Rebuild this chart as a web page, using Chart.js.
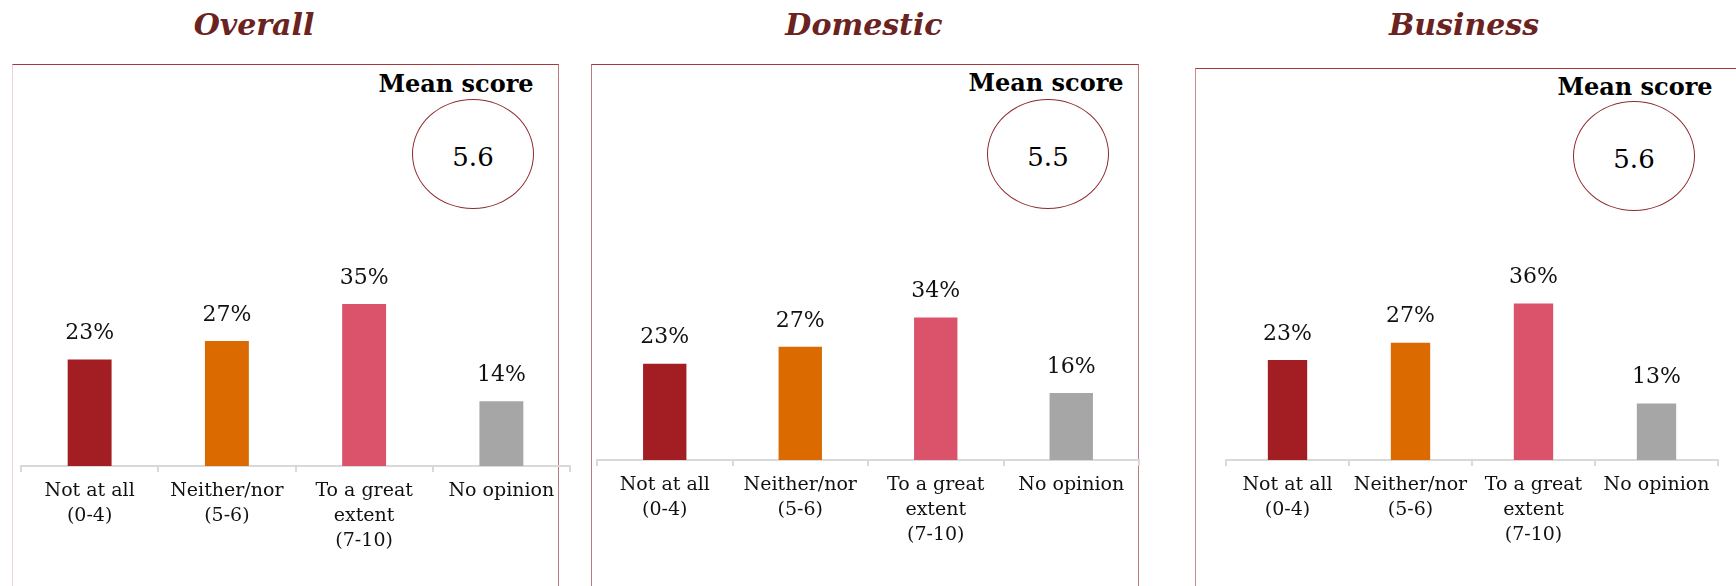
<!DOCTYPE html>
<html>
<head>
<meta charset="utf-8">
<script src="https://cdn.jsdelivr.net/npm/chart.js@4.4.1/dist/chart.umd.min.js"></script>
<style>
  body { margin: 0; width: 1736px; height: 586px; overflow: hidden; background: #fff; position: relative; font-family: "DejaVu Serif", serif; }
  .box { position: absolute; height: 600px; box-sizing: border-box; border-top: 1.5px solid #a5383a; border-left: 1.5px solid #ba7b7f; border-right: 1.5px solid #ba7b7f; }
  .txt { position: absolute; transform: translate(-50%, -50%); line-height: 1; white-space: nowrap; }
  .title { font: italic bold 30px "DejaVu Serif", serif; color: #6a2320; }
  .mean { font: bold 24px "DejaVu Serif", serif; color: #000; }
  .score { font: 26px "DejaVu Serif", serif; color: #000; }
  .ring { position: absolute; border: 1px solid #8e2b2e; border-radius: 50%; box-sizing: border-box; }
  canvas { position: absolute; }
</style>
</head>
<body>
<script>
// categories and values
const categories = [["Not at all", "(0-4)"], ["Neither/nor", "(5-6)"], ["To a great", "extent", "(7-10)"], ["No opinion"]];
const barColors = ["#a21e22", "#db6a00", "#db526b", "#a6a6a6"];
const panelTitles = ["Overall", "Domestic", "Business"];
const overallValues = [23, 27, 35, 14];
const domesticValues = [23, 27, 34, 16];
const businessValues = [23, 27, 36, 13];
const meanScores = [5.6, 5.5, 5.6];

// where each panel sits on the page
const panels = [
  { values: overallValues, box: [12, 63.5, 559], leftBorder: "#ecd0d6", titleX: 254, mean: [456, 83], ring: [473, 154], axisL: 21, axisR: 570, axisY: 466, pxPer: 4.63 },
  { values: domesticValues, box: [591, 63.5, 1139], leftBorder: "#ba7b7f", titleX: 864, mean: [1046, 82], ring: [1048, 154], axisL: 597, axisR: 1139, axisY: 460, pxPer: 4.19 },
  { values: businessValues, box: [1195, 67.5, 1760], leftBorder: "#c58b8f", titleX: 1464, mean: [1635, 86], ring: [1634, 156], axisL: 1225.5, axisR: 1717, axisY: 460, pxPer: 4.345 }
];

const valueLabels = {
  id: "valueLabels",
  afterDatasetsDraw(chart) {
    const ctx = chart.ctx;
    const values = chart.data.datasets[0].data;
    ctx.save();
    ctx.font = '22px "DejaVu Serif"';
    ctx.fillStyle = "#111";
    ctx.textAlign = "center";
    ctx.textBaseline = "middle";
    chart.getDatasetMeta(0).data.forEach((bar, i) => {
      ctx.fillText(values[i] + "%", bar.x, bar.y - 26);
    });
    ctx.restore();
  }
};

function addText(cls, text, x, y) {
  const el = document.createElement("div");
  el.className = "txt " + cls;
  el.textContent = text;
  el.style.left = x + "px";
  el.style.top = y + "px";
  document.body.appendChild(el);
}

panels.forEach((p, i) => {
  const box = document.createElement("div");
  box.className = "box";
  box.style.left = p.box[0] + "px";
  box.style.top = p.box[1] + "px";
  box.style.width = (p.box[2] - p.box[0]) + "px";
  box.style.borderLeftColor = p.leftBorder;
  document.body.appendChild(box);

  addText("title", panelTitles[i], p.titleX, 24);
  addText("mean", "Mean score", p.mean[0], p.mean[1]);

  const ring = document.createElement("div");
  ring.className = "ring";
  ring.style.cssText = `left:${p.ring[0] - 61}px;top:${p.ring[1] - 55}px;width:122px;height:110px;`;
  document.body.appendChild(ring);
  addText("score", meanScores[i].toFixed(1), p.ring[0], p.ring[1] + 3);

  const top = 200;
  const height = 586 - top;
  const areaH = p.axisY - top;
  const pad = 2;
  const canvas = document.createElement("canvas");
  canvas.width = Math.round(p.axisR - p.axisL) + pad * 2;
  canvas.height = height;
  canvas.style.left = (p.axisL - pad) + "px";
  canvas.style.top = top + "px";
  document.body.appendChild(canvas);

  new Chart(canvas, {
    type: "bar",
    data: {
      labels: categories,
      datasets: [{ data: p.values, backgroundColor: barColors, barPercentage: 0.32, categoryPercentage: 1 }]
    },
    options: {
      responsive: false,
      animation: false,
      devicePixelRatio: 1,
      layout: { padding: { left: pad, right: pad, top: 0, bottom: 0 } },
      plugins: { legend: { display: false }, tooltip: { enabled: false } },
      scales: {
        x: {
          grid: { offset: true, drawOnChartArea: false, color: "#d9d9d9", lineWidth: 2, tickLength: 6 },
          border: { color: "#d9d9d9", width: 2 },
          ticks: { color: "#111", font: { family: "DejaVu Serif", size: 19, lineHeight: 1.3 }, padding: 7, maxRotation: 0, autoSkip: false },
          afterFit: s => { s.height = height - areaH; }
        },
        y: { display: false, min: 0, max: areaH / p.pxPer }
      }
    },
    plugins: [valueLabels]
  });
});
</script>
</body>
</html>
